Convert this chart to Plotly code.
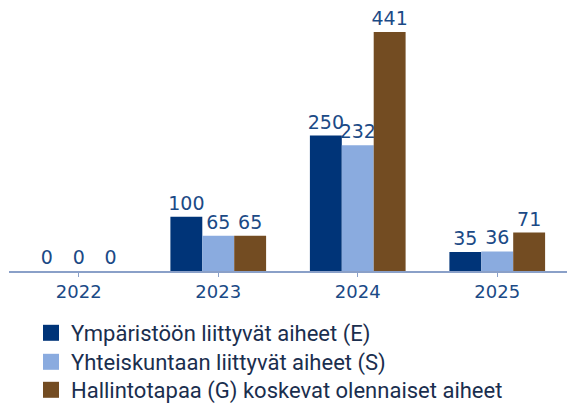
import plotly.graph_objects as go

years = ["2022", "2023", "2024", "2025"]
env_vals = [0, 100, 250, 35]
soc_vals = [0, 65, 232, 36]
gov_vals = [0, 65, 441, 71]
series_names = [
    "Ympäristöön liittyvät aiheet (E)",
    "Yhteiskuntaan liittyvät aiheet (S)",
    "Hallintotapaa (G) koskevat olennaiset aiheet",
]
colors = ["#003478", "#8aabdf", "#734c22"]

fig = go.Figure()
for name, vals, col in zip(series_names, [env_vals, soc_vals, gov_vals], colors):
    fig.add_trace(go.Bar(
        x=years, y=vals, name=name, marker=dict(color=col, line=dict(width=0)),
        text=[str(v) for v in vals], textposition="outside",
        constraintext="none",
        textfont=dict(family="DejaVu Sans", size=19, color="#1b4a86"),
        cliponaxis=False, showlegend=False,
    ))
# legend entries (square swatches), one legend per row for exact spacing
legend_ids = ["legend", "legend2", "legend3"]
for name, col, lid in zip(series_names, colors, legend_ids):
    fig.add_trace(go.Scatter(
        x=[None], y=[None], mode="markers", name=name, legend=lid,
        marker=dict(symbol="square", size=16, color=col),
    ))

legend_style = dict(
    xref="container", yref="container", xanchor="left", yanchor="top",
    font=dict(family="Roboto", size=22, color="#1a2e4e"),
    itemwidth=30, bgcolor="rgba(0,0,0,0)",
)
row_tops = [312, 341, 369]

fig.update_layout(
    width=567, height=403,
    margin=dict(l=9, r=0, t=0, b=132, autoexpand=False),
    plot_bgcolor="white", paper_bgcolor="white",
    barmode="group", bargap=0.314, bargroupgap=0,
    showlegend=True,
    legend=dict(x=31/567, y=1 - row_tops[0]/403, **legend_style),
    legend2=dict(x=31/567, y=1 - row_tops[1]/403, **legend_style),
    legend3=dict(x=31/567, y=1 - row_tops[2]/403, **legend_style),
    xaxis=dict(
        type="category",
        showline=True, linecolor="#8aa0c8", linewidth=1.5,
        ticks="outside", ticklen=4, tickcolor="#8aa0c8",
        tickfont=dict(family="DejaVu Sans", size=18, color="#1b4a86"),
        showgrid=False,
    ),
    yaxis=dict(range=[0, 500], visible=False, showgrid=False),
)

fig.write_html("out.html", config={"displayModeBar": False},
               post_script="document.body.style.margin='0';")
